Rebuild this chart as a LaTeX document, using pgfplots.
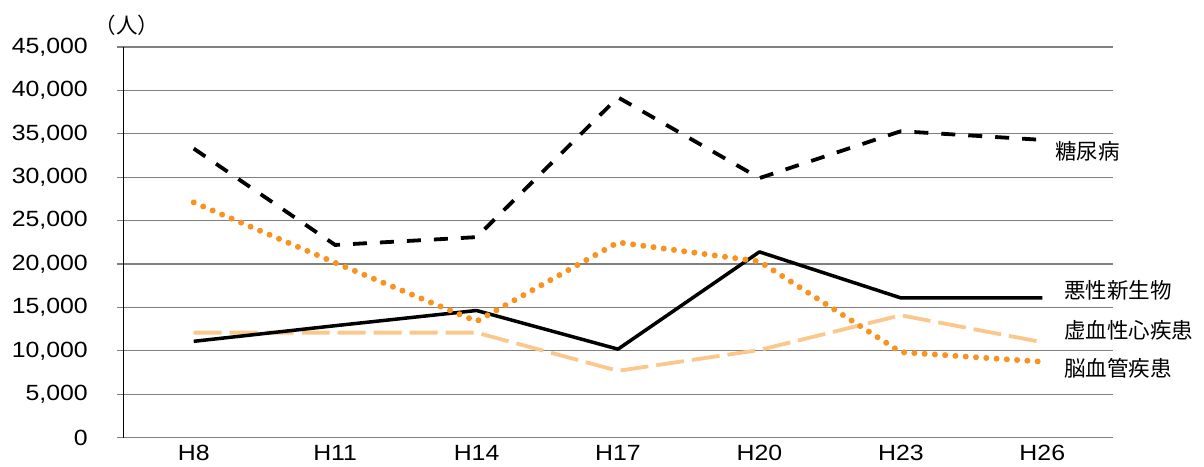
\documentclass[border=0pt]{standalone}
\usepackage{fontspec}
\setmainfont{Liberation Sans}[FakeStretch=1.13]
\newfontfamily\jp{Noto Sans CJK JP}
\usepackage{pgfplots}
\pgfplotsset{compat=1.18}

\definecolor{lineorange}{RGB}{247,147,30}
\definecolor{linepeach}{RGB}{250,199,140}
\definecolor{gridgray}{RGB}{128,128,128}

\begin{document}
\begin{tikzpicture}
\path[use as bounding box] (0,0) rectangle (1204pt,466pt);
\begin{axis}[
  at={(123pt,28.3pt)}, anchor=south west,
  scale only axis, width=990pt, height=390.7pt,
  xmin=-0.5, xmax=6.5, ymin=0, ymax=45000,
  xtick={0,1,2,3,4,5,6},
  xticklabels={H8,H11,H14,H17,H20,H23,H26},
  ytick={0,5000,10000,15000,20000,25000,30000,35000,40000,45000},
  scaled y ticks=false,
  /pgf/number format/.cd, fixed, precision=0, 1000 sep={,}, assume math mode=true,
  /pgfplots/.cd,
  axis lines*=left,
  x axis line style={-, gridgray, line width=1.2pt},
  y axis line style={-, black, line width=1pt},
  ymajorgrids,
  grid style={gridgray, line width=1.2pt},
  tick align=outside,
  major tick length=6pt,
  xtick style={draw=none},
  ytick style={gridgray, line width=1.2pt},
  ticklabel style={font=\fontsize{22}{24}\selectfont, inner sep=0pt},
  yticklabel style={anchor=east, xshift=-29pt},
  xticklabel style={anchor=base, yshift=-16.5pt},
  clip=false,
]
% 虚血性心疾患
\addplot[linepeach, line width=3.8pt, dash pattern=on 28pt off 8pt, line join=round]
  coordinates {(0,12100) (1,12100) (2,12100) (3,7700) (4,10100) (5,14100) (6,11000)};
% 悪性新生物
\addplot[black, line width=3.5pt, line join=round]
  coordinates {(0,11100) (1,12900) (2,14650) (3,10200) (4,21400) (5,16100) (6,16100)};
% 脳血管疾患
\addplot[lineorange, line width=6pt, line cap=round, dash pattern=on 0pt off 10.3pt]
  coordinates {(0,27100) (1,20150) (2,13400) (3,22500) (4,20300) (5,9850) (6,8750)};
% 糖尿病
\addplot[black, line width=3.8pt, dash pattern=on 14pt off 13pt]
  coordinates {(0,33300) (1,22200) (2,23100) (3,39200) (4,29900) (5,35300) (6,34300)};
\end{axis}
\node[font=\jp\fontsize{21.5}{24}\selectfont, inner sep=0pt] at (127pt,441pt) {（人）};
\begin{scope}[every node/.style={font=\jp\fontsize{21.5}{24}\selectfont, inner sep=0pt, anchor=west}]
\node at (1055pt,314.3pt) {糖尿病};
\node at (1064pt,175.3pt) {悪性新生物};
\node at (1064pt,136pt) {虚血性心疾患};
\node at (1064pt,97.7pt) {脳血管疾患};
\end{scope}
\end{tikzpicture}
\end{document}
